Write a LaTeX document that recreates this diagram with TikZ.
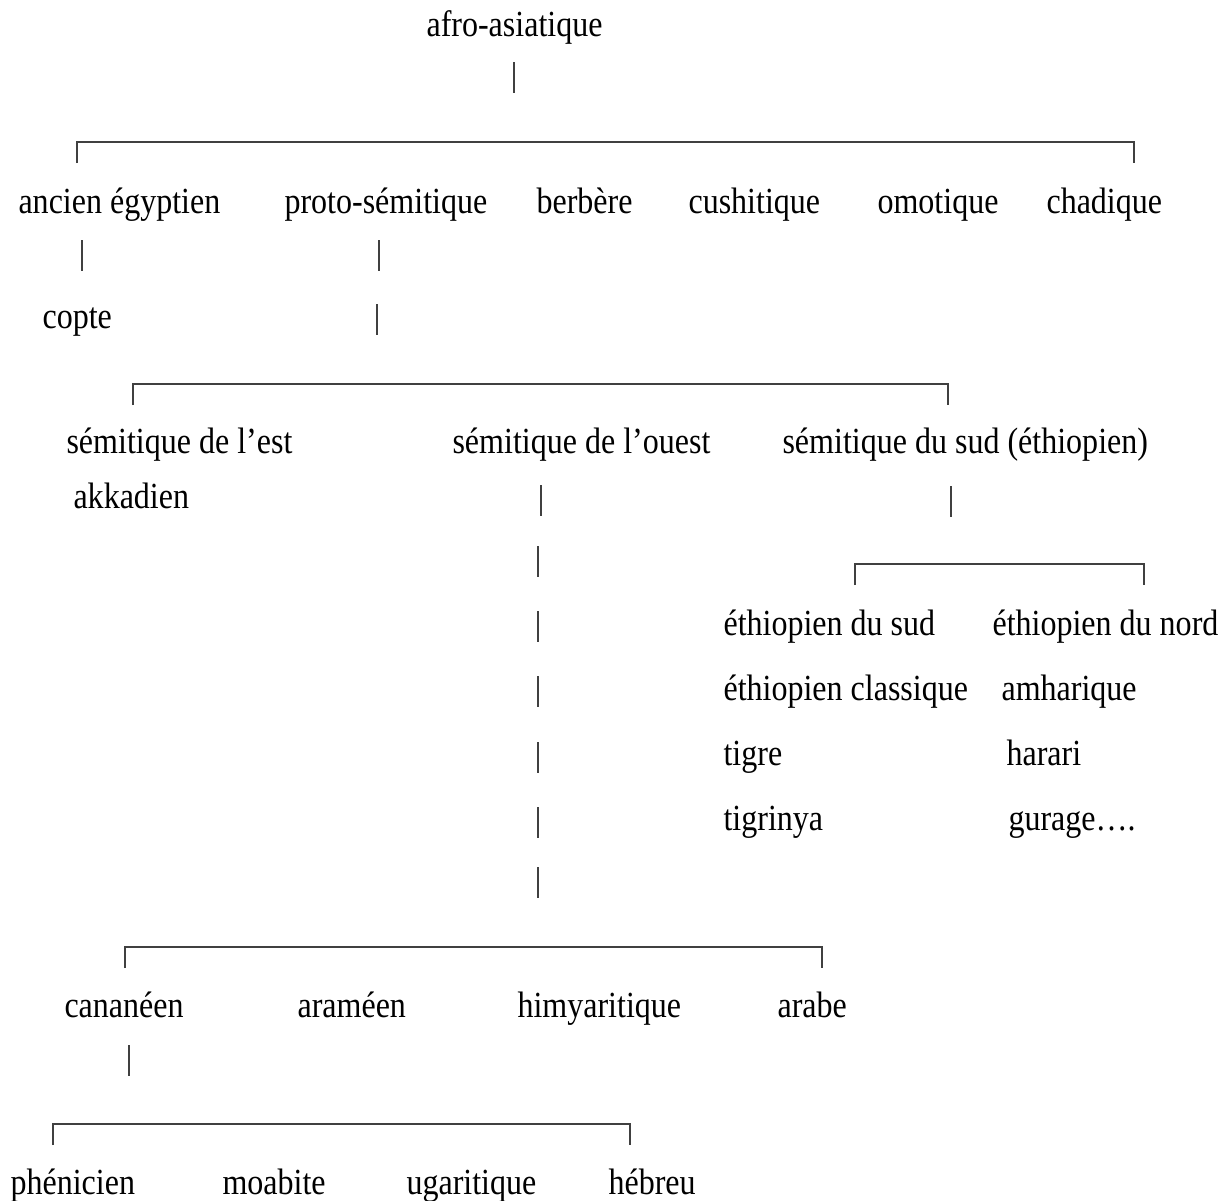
\documentclass[tikz,border=0pt]{standalone}
\usepackage{fontspec}
\setmainfont{Liberation Serif}[FakeStretch=0.87]
\tikzstyle{lang}=[anchor=base west,inner sep=0pt,
                  font=\fontsize{13.8}{16}\selectfont]
\tikzstyle{branch}=[draw=black!75,line width=0.4pt]

\begin{document}
\begin{tikzpicture}[x=0.375pt,y=-0.375pt]
    \newcommand{\ticklen}{31}
    \newcommand{\droplen}{21}
    \useasboundingbox (0,0) rectangle (1223,1200);

    % languages
    \node (afro) at (426,36) [lang]{afro-asiatique};
    \node (egy) at (18,213) [lang]{ancien égyptien};
    \node (proto) at (284,213) [lang]{proto-sémitique};
    \node (berb) at (536,213) [lang]{berbère};
    \node (cush) at (688,213) [lang]{cushitique};
    \node (omot) at (877,213) [lang]{omotique};
    \node (chad) at (1046,213) [lang]{chadique};
    \node (copte) at (42,328) [lang]{copte};
    \node (est) at (66,453) [lang]{sémitique de l’est};
    \node (ouest) at (452,453) [lang]{sémitique de l’ouest};
    \node (sud) at (782,453) [lang]{sémitique du sud (éthiopien)};
    \node (akk) at (73,508) [lang]{akkadien};
    \node (ethsud) at (723,635) [lang]{éthiopien du sud};
    \node (ethnord) at (992,635) [lang]{éthiopien du nord};
    \node (ethcl) at (723,700) [lang]{éthiopien classique};
    \node (amh) at (1001,700) [lang]{amharique};
    \node (tigre) at (723,765) [lang]{tigre};
    \node (harari) at (1006,765) [lang]{harari};
    \node (tigrinya) at (723,830) [lang]{tigrinya};
    \node (gurage) at (1008,830) [lang]{gurage….};
    \node (canan) at (64,1017) [lang]{cananéen};
    \node (aram) at (297,1017) [lang]{araméen};
    \node (himy) at (517,1017) [lang]{himyaritique};
    \node (arabe) at (777,1017) [lang]{arabe};
    \node (phen) at (10,1194) [lang]{phénicien};
    \node (moab) at (222,1194) [lang]{moabite};
    \node (ugar) at (406,1194) [lang]{ugaritique};
    \node (hebr) at (608,1194) [lang]{hébreu};

    % vertical ticks
    \coordinate (ta) at (514,62);  \coordinate (ba) at (514,62+\ticklen);
    \coordinate (te) at (82,240);  \coordinate (be) at (82,240+\ticklen);
    \coordinate (tp) at (379,240); \coordinate (bp) at (379,240+\ticklen);
    \coordinate (tq) at (377,304); \coordinate (bq) at (377,304+\ticklen);
    \coordinate (ts) at (951,486); \coordinate (bs) at (951,486+\ticklen);
    \coordinate (tc) at (129,1045); \coordinate (bc) at (129,1045+\ticklen);
    \coordinate (to1) at (541,485); \coordinate (bo1) at (541,485+\ticklen);
    \coordinate (to2) at (538,546); \coordinate (bo2) at (538,546+\ticklen);
    \coordinate (to3) at (538,611); \coordinate (bo3) at (538,611+\ticklen);
    \coordinate (to4) at (538,676); \coordinate (bo4) at (538,676+\ticklen);
    \coordinate (to5) at (538,742); \coordinate (bo5) at (538,742+\ticklen);
    \coordinate (to6) at (538,807); \coordinate (bo6) at (538,807+\ticklen);
    \coordinate (to7) at (538,867); \coordinate (bo7) at (538,867+\ticklen);
    \draw[branch] (ta) -- (ba) (te) -- (be) (tp) -- (bp) (tq) -- (bq)
                  (ts) -- (bs) (tc) -- (bc);
    \draw[branch] (to1) -- (bo1) (to2) -- (bo2) (to3) -- (bo3) (to4) -- (bo4)
                  (to5) -- (bo5) (to6) -- (bo6) (to7) -- (bo7);

    % brackets
    \coordinate (l1) at (77,142+\droplen);   \coordinate (r1) at (1134,142);
    \coordinate (l2) at (133,384+\droplen);  \coordinate (r2) at (948,384);
    \coordinate (l3) at (855,564+\droplen);  \coordinate (r3) at (1144,564);
    \coordinate (l4) at (125,947+\droplen);  \coordinate (r4) at (822,947);
    \coordinate (l5) at (53,1124+\droplen);  \coordinate (r5) at (630,1124);
    \draw[branch] (l1) |- (r1) -- (r1 |- l1);
    \draw[branch] (l2) |- (r2) -- (r2 |- l2);
    \draw[branch] (l3) |- (r3) -- (r3 |- l3);
    \draw[branch] (l4) |- (r4) -- (r4 |- l4);
    \draw[branch] (l5) |- (r5) -- (r5 |- l5);
  \end{tikzpicture}
\end{document}
